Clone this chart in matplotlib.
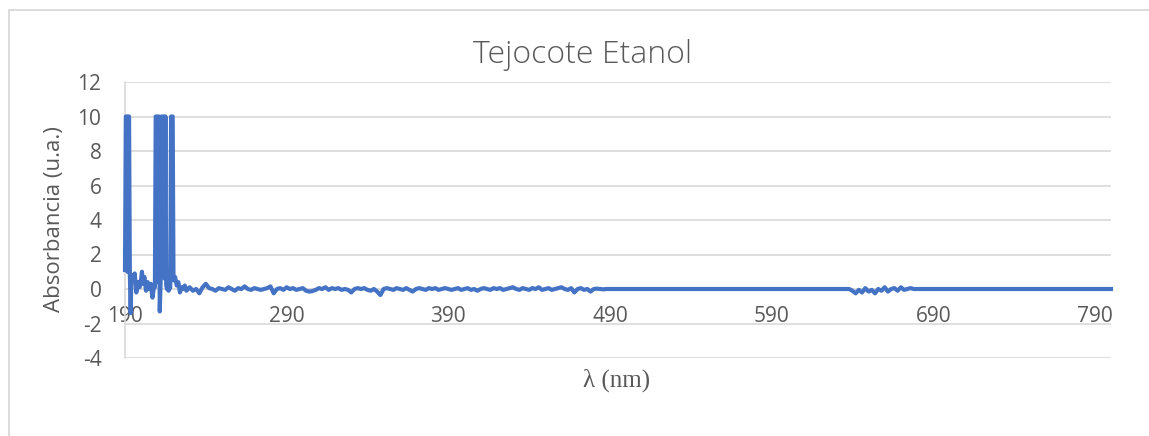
import matplotlib
matplotlib.use('Agg')
import matplotlib.pyplot as plt
from matplotlib.patches import Rectangle

plt.rcParams['axes.unicode_minus'] = False

# espectro UV-Vis, extracto de tejocote en etanol
wl_inicio = [190.0, 190.5, 191.0, 191.5, 192.0, 192.5, 193.0, 193.5, 194.0, 195.0,
             196.0, 197.0, 198.0, 199.0, 200.0, 200.5, 201.0, 202.0, 203.0, 204.0,
             205.0, 206.0, 207.0, 208.0, 208.5, 209.0, 210.0, 210.5, 211.0, 211.5,
             212.0, 212.5, 213.0, 214.0, 214.5, 215.0, 215.5, 216.0, 217.0, 218.0,
             218.5, 219.5, 220.0, 221.0, 222.0, 223.0, 224.0, 225.0, 226.0, 227.0,
             228.0, 229.0, 230.0]
abs_inicio = [1.1, 10, 10, 1.0, 10, 10, 0.9, -1.4, 0.8, 0.5,
              0.9, -0.2, 0.4, 0.1, 0.6, 1.0, 0.3, 0.7, -0.1, 0.4,
              0.0, 0.3, -0.5, 0.2, 0.1, 10, 10, 0.4, 10, -1.3,
              0.3, 10, 10, 10, 0.6, 10, 0.2, 0.0, -0.1, 0.1,
              10, 10, 0.5, 0.7, 0.2, 0.4, -0.2, 0.1, 0.0, 0.2,
              -0.1, 0.0, 0.1]

wl_medio = [232, 234, 236, 238, 240, 242, 244, 246, 248, 250,
            252, 254, 256, 258, 260, 262, 264, 266, 268, 270,
            272, 274, 276, 278, 280, 282, 284, 286, 288, 290,
            292, 294, 296, 298, 300, 302, 304, 306, 308, 310,
            312, 314, 316, 318, 320, 322, 324, 326, 328, 330,
            332, 334, 336, 338, 340, 342, 344, 346, 348, 350,
            352, 354, 356, 358, 360, 362, 364, 366, 368, 370,
            372, 374, 376, 378, 380, 382, 384, 386, 388, 390,
            392, 394, 396, 398, 400, 402, 404, 406, 408, 410,
            412, 414, 416, 418, 420, 422, 424, 426, 428, 430,
            432, 434, 436, 438, 440, 442, 444, 446, 448, 450,
            452, 454, 456, 458, 460, 462, 464, 466, 468, 470,
            472, 474, 476, 478, 480, 482, 484, 486, 488, 490]
abs_medio = [-0.1, 0.0, -0.25, 0.1, 0.3, 0.05, 0.0, -0.1, 0.05, 0.0,
             -0.05, 0.1, 0.0, -0.1, 0.05, 0.0, 0.15, 0.0, -0.05, 0.05,
             0.0, -0.05, 0.0, 0.05, 0.15, -0.25, 0.0, 0.05, -0.05, 0.1,
             0.0, 0.05, -0.05, 0.0, 0.05, -0.1, -0.15, -0.12, -0.05, 0.05,
             0.0, 0.1, -0.05, 0.05, 0.0, 0.05, -0.05, 0.0, -0.05, -0.2,
             0.0, 0.05, 0.0, 0.05, -0.05, -0.1, 0.0, -0.15, -0.35, 0.0,
             0.05, 0.0, -0.05, 0.05, 0.0, -0.05, 0.05, -0.05, -0.15, 0.0,
             0.05, 0.0, -0.05, 0.05, 0.0, 0.05, -0.05, 0.0, 0.05, 0.0,
             -0.05, 0.0, 0.05, -0.05, 0.0, 0.05, -0.05, 0.0, -0.1, 0.0,
             0.05, 0.0, -0.05, 0.05, 0.0, 0.05, -0.05, 0.0, 0.05, 0.1,
             0.0, -0.05, 0.05, 0.0, -0.05, 0.05, 0.0, 0.1, -0.05, 0.0,
             0.05, -0.05, 0.0, 0.05, 0.1, 0.0, -0.05, 0.05, -0.2, 0.0,
             0.05, -0.05, 0.0, -0.15, 0.0, 0.02, 0.0, -0.02, 0.0, 0.0]

wl_final = [540, 600, 638, 640, 642, 644, 646, 648, 650, 652,
            654, 656, 658, 660, 662, 664, 666, 668, 670, 672,
            674, 676, 678, 680, 740, 800]
abs_final = [0.0, 0.0, 0.0, -0.1, -0.25, -0.05, -0.2, 0.05, -0.15, -0.05,
             -0.25, 0.0, -0.1, 0.1, -0.15, 0.0, 0.05, -0.1, 0.1, -0.05,
             0.0, 0.05, 0.0, 0.0, 0.0, 0.0]

wl = wl_inicio + wl_medio + wl_final
absorbancia = abs_inicio + abs_medio + abs_final

xticks = [190, 290, 390, 490, 590, 690, 790]
yticks = [-4, -2, 0, 2, 4, 6, 8, 10, 12]

gris = '#595959'
fig = plt.figure(figsize=(11.49, 4.36), dpi=100)
W, H = 1149, 436

# marco del área del gráfico
fig.patches.append(Rectangle((9 / W, -0.1), 1.2, 1 - 10 / H + 0.1,
                             transform=fig.transFigure, fill=False,
                             edgecolor='#D9D9D9', lw=1.3))

ax = fig.add_axes([125 / W, 1 - 358 / H, (1111 - 125) / W, (358 - 82) / H])
ax.plot(wl, absorbancia, color='#4472C4', lw=3.0, clip_on=False, zorder=3)

ax.set_xlim(190, 800)
ax.set_ylim(-4, 12)
ax.set_xticks(xticks)
ax.set_yticks(yticks)
ax.grid(axis='y', color='#D9D9D9', lw=1.2)
ax.set_axisbelow(True)
for s in ['top', 'right']:
    ax.spines[s].set_visible(False)
ax.spines['bottom'].set_position(('data', 0))
ax.spines['bottom'].set_color('#D9D9D9')
ax.spines['left'].set_color('#D9D9D9')
ax.spines['bottom'].set_linewidth(1.2)
ax.spines['left'].set_linewidth(1.2)
ax.tick_params(length=0, labelsize=15, labelcolor=gris)
ax.tick_params(axis='x', pad=12)
ax.tick_params(axis='y', pad=17)
for lab in ax.get_xticklabels() + ax.get_yticklabels():
    lab.set_family('Open Sans')

fig.text(583 / W, 1 - 55 / H, 'Tejocote Etanol', ha='center', va='center',
         fontsize=23, color=gris, family='Open Sans', fontweight='light')
fig.text(55 / W, 1 - 219 / H, 'Absorbancia (u.a.)', ha='center', va='center',
         rotation=90, fontsize=16, color=gris, family='Open Sans')
fig.text(617 / W, 1 - 380 / H, 'λ (nm)', ha='center', va='center',
         fontsize=18, color=gris, family='Liberation Serif')

fig.savefig('out.png', dpi=100)
